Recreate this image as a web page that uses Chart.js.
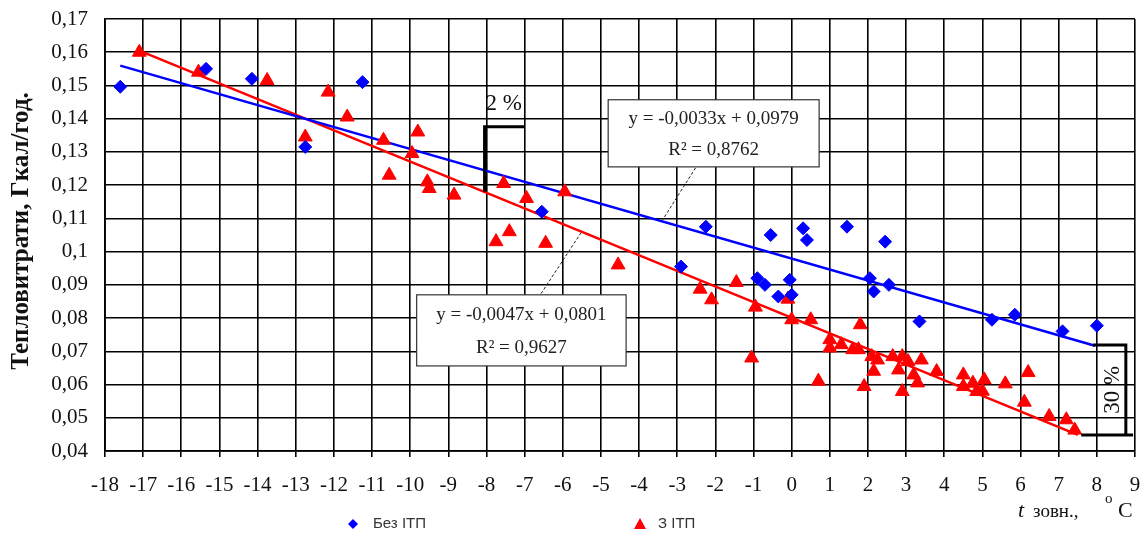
<!DOCTYPE html>
<html lang="uk">
<head>
<meta charset="utf-8">
<script src="https://cdn.jsdelivr.net/npm/chart.js@4.4.1/dist/chart.umd.min.js"></script>
<style>
  body { margin: 0; background: #fff; }
  #wrap { width: 1145px; height: 533px; position: relative; }
</style>
</head>
<body>
<div id="wrap"><canvas id="grafik"></canvas></div>
<script>
// Без ІТП (сині ромби)
const bezItpX = [-17.6, -15.35, -14.15, -12.75, -11.25, -6.55, -2.25, -2.9, -0.55, 0.3, 0.4, 1.45, 2.45,
                 -0.9, -0.7, -0.05, -0.35, 0.0, 2.05, 2.15, 2.55, 3.35, 5.25, 5.85, 7.1, 8.0];
const bezItpY = [0.1496, 0.155, 0.152, 0.1315, 0.151, 0.112, 0.1075, 0.0955, 0.105, 0.107, 0.1035, 0.1075, 0.103,
                 0.092, 0.090, 0.0915, 0.0865, 0.087, 0.092, 0.088, 0.090, 0.079, 0.0795, 0.081, 0.076, 0.0777];

// З ІТП (червоні трикутники)
const zItpX = [-17.1, -15.55, -13.75, -12.15, -11.65, -12.75, -10.7, -10.55, -9.8, -9.95, -9.55, -9.5, -8.85,
               -7.55, -6.95, -5.95, -7.4, -7.75, -6.45, -4.55, -2.4, -2.1, -1.45, -0.95, -1.05, -0.1, 0.0,
               0.5, 0.7, 1.8, 1.0, 1.0, 1.3, 1.6, 1.75, 1.9, 2.1, 2.15, 2.25, 2.65, 2.8, 2.9, 2.9, 3.05,
               3.2, 3.3, 3.4, 3.8, 4.5, 4.5, 4.75, 4.85, 5.0, 5.05, 5.6, 6.2, 6.1, 6.75, 7.2, 7.42];
const zItpY = [0.160, 0.154, 0.1515, 0.148, 0.1405, 0.1345, 0.1335, 0.123, 0.136, 0.1295, 0.121, 0.119, 0.117,
               0.1205, 0.116, 0.118, 0.106, 0.103, 0.1025, 0.096, 0.0887, 0.0855, 0.0907, 0.0833, 0.068, 0.0857, 0.0795,
               0.0795, 0.061, 0.078, 0.0735, 0.071, 0.072, 0.0705, 0.0705, 0.0594, 0.0684, 0.064, 0.0674, 0.0684, 0.0644, 0.0684, 0.0579, 0.0669,
               0.0629, 0.0605, 0.0674, 0.0639, 0.0629, 0.0594, 0.0604, 0.0579, 0.058, 0.0614, 0.0602, 0.0636, 0.0547, 0.0504, 0.0494, 0.0463];

// лінії тренду: [k, b] і діапазон x
const trendBezKoef = [-0.0033, 0.0979];
const trendBezRange = [-17.6, 7.95];
const trendZKoef = [-0.0047, 0.0801];
const trendZRange = [-17.15, 7.5];

const eixoX = [-18, 9];
const eixoY = [0.04, 0.17];
const nomesSeries = ['Без ІТП', 'З ІТП'];
const textoTrendBez = ['y = -0,0033x + 0,0979', 'R² = 0,8762'];
const textoTrendZ = ['y = -0,0047x + 0,0801', 'R² = 0,9627'];

const AZUL = '#0000ff';
const VERMELHO = '#ff0000';
const SERIF = '"Liberation Serif", "DejaVu Serif", serif';
const SANS = '"Liberation Sans", Arial, sans-serif';

function pontos(xs, ys) {
    return xs.map((v, i) => ({ x: v, y: ys[i] }));
}
function linhaTrend(koef, range) {
    return range.map(v => ({ x: v, y: koef[0] * v + koef[1] }));
}
// tira o espaço extra que o Chart.js reserva para os rótulos das pontas
function semPadding(s) {
    s.paddingTop = 0; s.paddingBottom = 0; s.paddingLeft = 0; s.paddingRight = 0;
}

const annotacoes = {
    id: 'annotacoes',
    afterDatasetsDraw(chart) {
        const { ctx, scales: { x, y } } = chart;
        const px = v => x.getPixelForValue(v);
        const py = v => y.getPixelForValue(v);
        ctx.save();

        // linhas de chamada (tracejadas)
        ctx.strokeStyle = '#222';
        ctx.lineWidth = 1;
        ctx.setLineDash([3, 2]);
        ctx.beginPath();
        ctx.moveTo(px(-2.52), py(0.1252)); ctx.lineTo(px(-3.38), py(0.1096));
        ctx.moveTo(px(-5.52), py(0.1057)); ctx.lineTo(px(-6.59), py(0.087));
        ctx.stroke();
        ctx.setLineDash([]);

        // caixas com equações
        const caixa = (x0, y0, x1, y1, linhas) => {
            const l = px(x0), t = py(y0), r = px(x1), b = py(y1);
            ctx.fillStyle = '#fff';
            ctx.fillRect(l, t, r - l, b - t);
            ctx.strokeStyle = '#333';
            ctx.lineWidth = 1.2;
            ctx.strokeRect(l, t, r - l, b - t);
            ctx.fillStyle = '#222';
            ctx.font = '19px ' + SERIF;
            ctx.textAlign = 'center';
            ctx.textBaseline = 'middle';
            const cx = (l + r) / 2, h = b - t;
            ctx.fillText(linhas[0], cx, t + h * 0.28);
            ctx.fillText(linhas[1], cx, t + h * 0.75);
        };
        caixa(-4.81, 0.1457, 0.72, 0.1255, textoTrendBez);
        caixa(-9.83, 0.087, -4.34, 0.0656, textoTrendZ);

        // colchetes 2 % e 30 %
        ctx.strokeStyle = '#000';
        ctx.lineWidth = 3;
        ctx.beginPath();
        ctx.moveTo(px(-8.05), py(0.118));
        ctx.lineTo(px(-8.05), py(0.1376));
        ctx.lineTo(px(-7.0), py(0.1376));
        ctx.moveTo(px(7.9), py(0.0719));
        ctx.lineTo(px(8.76), py(0.0719));
        ctx.lineTo(px(8.76), py(0.0448));
        ctx.moveTo(px(7.59), py(0.0448));
        ctx.lineTo(px(8.95), py(0.0448));
        ctx.stroke();

        ctx.fillStyle = '#111';
        ctx.font = '23px ' + SERIF;
        ctx.textAlign = 'center';
        ctx.textBaseline = 'middle';
        ctx.fillText('2 %', px(-7.55), py(0.1445));
        ctx.save();
        ctx.translate(px(8.42), py(0.0584));
        ctx.rotate(-Math.PI / 2);
        ctx.fillText('30 %', 0, 0);
        ctx.restore();

        // título do eixo Y
        ctx.save();
        ctx.translate(22, 231);
        ctx.rotate(-Math.PI / 2);
        ctx.font = 'bold 25px ' + SERIF;
        ctx.fillStyle = '#111';
        ctx.fillText('Тепловитрати, Гкал/год.', 0, 0);
        ctx.restore();

        // título do eixo X: t зовн., °С
        ctx.textAlign = 'left';
        ctx.textBaseline = 'alphabetic';
        ctx.font = 'italic 22px ' + SERIF;
        ctx.fillText('t', 1018, 517);
        ctx.font = '19px ' + SERIF;
        ctx.fillText('зовн.,', 1033, 517);
        ctx.font = '15px ' + SERIF;
        ctx.fillText('o', 1105, 503);
        ctx.font = '22px ' + SERIF;
        ctx.fillText('С', 1118, 517);

        // legenda
        ctx.font = '15px ' + SANS;
        ctx.textBaseline = 'middle';
        ctx.fillStyle = AZUL;
        ctx.beginPath();
        ctx.moveTo(353, 519); ctx.lineTo(358, 524); ctx.lineTo(353, 529); ctx.lineTo(348, 524);
        ctx.closePath(); ctx.fill();
        ctx.fillStyle = '#333';
        ctx.fillText(nomesSeries[0], 373, 524);
        ctx.fillStyle = VERMELHO;
        ctx.beginPath();
        ctx.moveTo(640, 518); ctx.lineTo(646, 529); ctx.lineTo(634, 529);
        ctx.closePath(); ctx.fill();
        ctx.fillStyle = '#333';
        ctx.fillText(nomesSeries[1], 658, 524);

        ctx.restore();
    }
};

const ctx = document.getElementById('grafik').getContext('2d');
new Chart(ctx, {
    type: 'scatter',
    data: {
        datasets: [
            {
                label: nomesSeries[0],
                data: pontos(bezItpX, bezItpY),
                pointStyle: 'rectRot',
                pointRadius: 6.5,
                backgroundColor: AZUL,
                borderColor: AZUL,
                borderWidth: 1
            },
            {
                label: nomesSeries[1],
                data: pontos(zItpX, zItpY),
                pointStyle: 'triangle',
                pointRadius: 8,
                backgroundColor: VERMELHO,
                borderColor: VERMELHO,
                borderWidth: 1
            },
            {
                type: 'line',
                data: linhaTrend(trendBezKoef, trendBezRange),
                borderColor: AZUL,
                borderWidth: 2.5,
                pointRadius: 0,
                fill: false
            },
            {
                type: 'line',
                data: linhaTrend(trendZKoef, trendZRange),
                borderColor: VERMELHO,
                borderWidth: 2.5,
                pointRadius: 0,
                fill: false
            }
        ]
    },
    options: {
        responsive: true,
        maintainAspectRatio: false,
        animation: false,
        layout: { padding: { left: 0, right: 10, top: 19, bottom: 0 } },
        plugins: {
            legend: { display: false },
            tooltip: { enabled: false }
        },
        scales: {
            x: {
                type: 'linear',
                min: eixoX[0],
                max: eixoX[1],
                afterFit: s => { s.height = 82; semPadding(s); },
                ticks: {
                    stepSize: 1,
                    color: '#111',
                    padding: 16,
                    font: { family: SERIF, size: 21 },
                    callback: v => String(v)
                },
                grid: { color: '#000', lineWidth: 1.6, tickLength: 6 },
                border: { color: '#000', width: 1.8 }
            },
            y: {
                min: eixoY[0],
                max: eixoY[1],
                afterFit: s => { s.width = 105; semPadding(s); },
                ticks: {
                    stepSize: 0.01,
                    color: '#111',
                    padding: 17,
                    font: { family: SERIF, size: 21 },
                    callback: v => String(Math.round(v * 100) / 100).replace('.', ',')
                },
                grid: { color: '#000', lineWidth: 1.6, drawTicks: false },
                border: { color: '#000', width: 1.8 }
            }
        }
    },
    plugins: [annotacoes]
});
</script>
</body>
</html>
